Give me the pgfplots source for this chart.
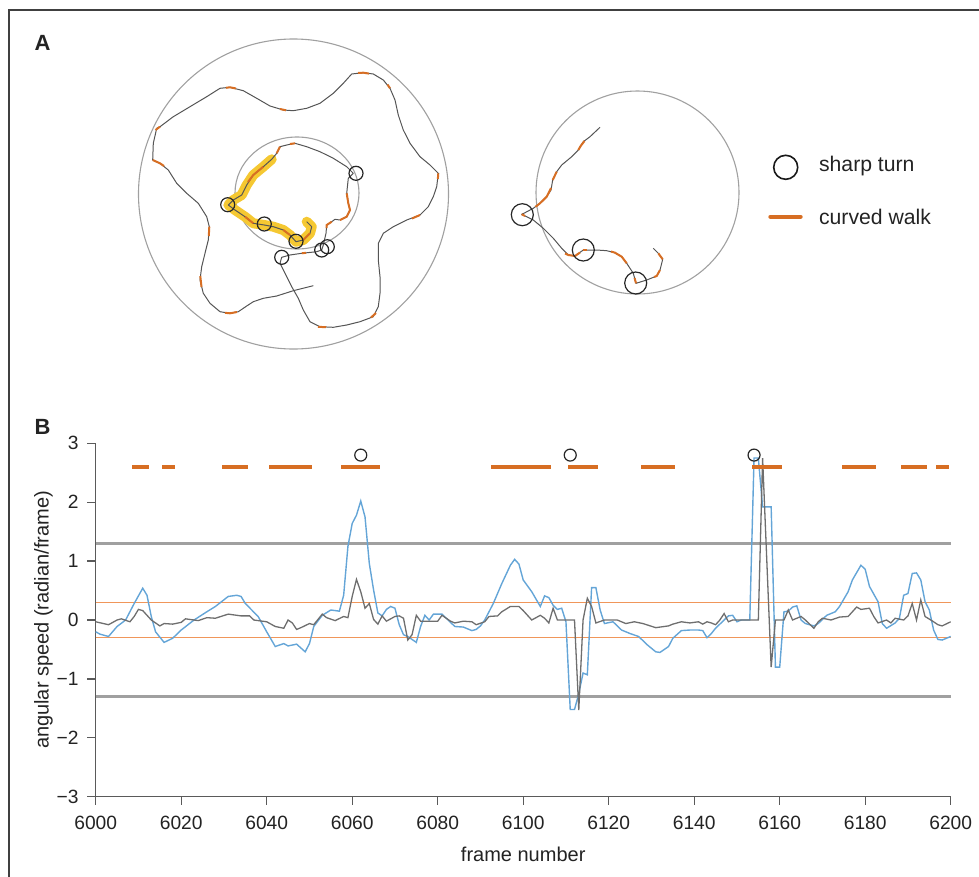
\documentclass[border=0pt]{standalone}
\usepackage{pgfplots}
\pgfplotsset{compat=1.18}
\usepackage{fontspec}
\setmainfont{Liberation Sans}

\definecolor{txt}{RGB}{35,35,35}
\definecolor{traj}{RGB}{85,85,85}
\definecolor{arena}{RGB}{160,160,160}
\definecolor{walk}{RGB}{215,110,35}
\definecolor{hilite}{RGB}{245,200,50}
\definecolor{speedblue}{RGB}{100,165,215}
\definecolor{speedgray}{RGB}{110,110,110}
\definecolor{thrgray}{RGB}{160,160,160}
\definecolor{throrange}{RGB}{240,150,90}
\definecolor{axgray}{RGB}{90,90,90}

\begin{document}
\begin{tikzpicture}
% 1 px of the reference = 0.5pt, y pointing down
\path[use as bounding box] (0pt,0pt) rectangle (489.5pt,-438.5pt);
\draw[black!75, line width=0.6pt] (4.5pt,-438.5pt) -- (4.5pt,-5pt) -- (489.5pt,-5pt);
\node[txt, font=\bfseries\fontsize{11}{13}\selectfont] at (21.25pt,-21.5pt) {A};
\node[txt, font=\bfseries\fontsize{11}{13}\selectfont] at (21.25pt,-213.35pt) {B};

% panel A: trajectories, in pixel units of the figure
\begin{axis}[
    at={(50pt,-185pt)}, anchor=south west,
    scale only axis, width=430pt, height=175pt,
    xmin=100, xmax=960, ymin=20, ymax=370,
    y dir=reverse, hide axis, clip=false,
]
\draw[arena, line width=0.55pt] (axis cs:293.5,194) circle[radius=155];
\draw[arena, line width=0.55pt] (axis cs:297,193) ellipse[x radius=62, y radius=56];
\draw[arena, line width=0.55pt] (axis cs:637.5,192.5) circle[radius=101.5];

% highlighted stretch
\addplot[hilite, line width=5pt, line cap=round, line join=round] coordinates {
 (271.7,159.3) (263.3,166.7) (253.3,175) (246.7,185) (241.7,195) (233.3,200)
 (228.3,205) (235,210) (245,216.7) (253.3,223.3) (264.3,225) (273.3,226.7)
 (283.3,230) (290,235) (296,241.7) (303.3,240) (310,233.3) (311.7,226.7) (306.7,221.7)
};

% left trajectory
\addplot[traj, line width=0.5pt, line join=round] coordinates {
 (313.3,285.7) (293.3,290.7) (276.7,296) (263.3,298.3) (253.3,301.7) (246.7,306)
 (238.3,311.7) (230,313.3) (220,311.7) (210,303.3) (203.3,293.3) (200,280)
 (201.7,266.7) (205,253.3) (208.3,240) (209.3,226.7) (206.7,216.7) (198.3,203.3)
 (186.7,193.3) (176.7,183.3) (168.3,170) (160,163.3) (152.7,160) (153.3,143.3)
 (156.7,128.3) (160,126.7) (173.3,116.7) (190,106.7) (206.7,96.7) (220,88.3)
 (230,87.3) (243.3,90.7) (256.7,98.3) (270,106) (283.3,110) (293.3,110.7)
 (306.7,108.3) (320,103.3) (333.3,93.3) (343.3,83.3) (351.7,74) (363.3,72.7)
 (373.3,74) (383.3,80) (390,88.3) (395,100) (398.3,115) (403.3,130) (410,143.3)
 (420,156.7) (430,165) (438.3,173.3) (436.7,186.7) (433.3,196.7) (428.3,206.7)
 (420,215) (406.7,220) (393.3,226.7) (383.3,233.3) (378.3,243.3) (378.3,260)
 (380,276.7) (380,293.3) (378.3,306.7) (373.3,316.7) (360,321.7) (346.7,325)
 (333.3,327.3) (320,326.7) (310,321.7) (303.3,310) (298.3,298.3) (291.7,286.7)
 (285,273.3) (280,263.3) (281.7,257.3) (290,255) (301.7,253.3) (316.7,251.7)
 (321.7,250) (323.3,245) (326,233.3) (326.7,225) (331.7,221.7) (335,219.3)
 (340,220) (346.7,216.7) (350,210) (348.3,203.3) (346.7,193.3) (348.3,178.3)
 (353.3,173.3) (346.7,166.7) (333.3,158.3) (320,151.7) (306.7,146.7) (295,143.3)
 (286.7,145) (280,146.7) (276.7,153.3) (271.7,159.3) (263.3,166.7) (253.3,175)
 (246.7,185) (241.7,195) (233.3,200) (228.3,205) (235,210) (245,216.7)
 (253.3,223.3) (264.3,225) (273.3,226.7) (283.3,230) (290,235) (296,241.7)
 (303.3,240) (310,233.3) (311.7,226.7) (306.7,221.7)
};

% curved walk stretches, left
\addplot[walk, line width=1pt] coordinates {(155.5,130) (160,126.7)};
\addplot[walk, line width=1pt] coordinates {(152.7,160) (160,163.3) (164,166)};
\addplot[walk, line width=1pt] coordinates {(209.3,226.7) (208.8,236)};
\addplot[walk, line width=1pt] coordinates {(200.3,276) (201.5,287)};
\addplot[walk, line width=1pt] coordinates {(225,312.8) (230,313.3) (237,312)};
\addplot[walk, line width=1pt] coordinates {(226,87.8) (230,87.3) (236,88.5)};
\addplot[walk, line width=1pt] coordinates {(280,109) (286,110.3)};
\addplot[walk, line width=1pt] coordinates {(358,73) (363.3,72.7) (369,73.6)};
\addplot[walk, line width=1pt] coordinates {(387.5,84.5) (390,88.3)};
\addplot[walk, line width=1pt] coordinates {(438.3,173.3) (437.8,179)};
\addplot[walk, line width=1pt] coordinates {(420,215) (412,218.5)};
\addplot[walk, line width=1pt] coordinates {(376,313) (371,317.5)};
\addplot[walk, line width=1pt] coordinates {(318,326.8) (326,327.2)};
\addplot[walk, line width=1pt] coordinates {(301.7,253.3) (306,252.8)};
\addplot[walk, line width=1pt] coordinates {(346.7,193.3) (348.3,203.3) (350,210) (346.7,216.7) (340,220)};
\addplot[walk, line width=1pt] coordinates {(326.5,228) (326.7,225) (331.7,221.7)};
\addplot[walk, line width=1pt] coordinates {(290,144) (295,143.3)};
\addplot[walk, line width=1pt] coordinates {(280,146.7) (276.7,153.3)};
\addplot[walk, line width=1pt] coordinates {(263.3,166.7) (253.3,175) (248,182)};
\addplot[walk, line width=1pt] coordinates {(245,216.7) (253.3,223.3)};
\addplot[walk, line width=1pt] coordinates {(283.3,230) (290,235)};
\addplot[walk, line width=1pt] coordinates {(303.3,240) (310,233.3)};

% right trajectory
\addplot[traj, line width=0.5pt, line join=round] coordinates {
 (600,127.3) (590,136.7) (583.3,141.7) (578.3,150) (571.7,156.7) (561.7,165)
 (556.7,171.7) (552.7,180) (551,190) (546.7,196.7) (540,203.3) (533.3,208.3)
 (525,212.7) (521.7,214.3) (533.3,220) (543.3,228.3) (553.3,238.3) (561.7,248.3)
 (568.3,255) (575,256) (583.3,250) (596.7,250) (606.7,250.7) (615,252.7)
 (621.7,256.7) (626.7,263.3) (630,268.3) (633.3,273.3) (636,283.3) (646.7,280)
 (656.7,276) (660,270) (662.7,259.3) (658.3,253.3) (653.3,248.3)
};
\addplot[walk, line width=1pt] coordinates {(578.3,150) (581,145.5) (584.5,141)};
\addplot[walk, line width=1pt] coordinates {(552.7,180) (556.7,171.7)};
\addplot[walk, line width=1pt] coordinates {(551,188) (546.7,196.7) (540,203.3) (535.5,206.8)};
\addplot[walk, line width=1pt] coordinates {(521.7,214.3) (525,216)};
\addplot[walk, line width=1pt] coordinates {(565,253.5) (568.3,255) (575,256) (580,252.5)};
\addplot[walk, line width=1pt] coordinates {(583.3,250) (587,250)};
\addplot[walk, line width=1pt] coordinates {(611,251.5) (615,252.7) (621.7,256.7) (626.7,263.3)};
\addplot[walk, line width=1pt] coordinates {(634.6,278) (636,283.3)};
\addplot[walk, line width=1pt] coordinates {(654,277) (656.7,276) (660,270)};
\addplot[walk, line width=1pt] coordinates {(662.7,259.3) (658.3,253.3)};

% sharp turns
\addplot[only marks, mark=o, mark size=3.5pt, black!85, line width=0.6pt] coordinates {
 (227.7,204.7) (264.3,224) (296,241.3) (281.7,257.3) (321.7,250) (327.3,246.7) (356,173.3)
};
\addplot[only marks, mark=o, mark size=5.5pt, black!85, line width=0.6pt] coordinates {
 (522.3,214.7) (583.3,250) (635.7,283)
};

% key
\addplot[only marks, mark=o, mark size=6pt, black!90, line width=0.8pt] coordinates {(785.7,167.3)};
\addplot[walk, line width=2.2pt, line cap=round] coordinates {(770.5,216.7) (800.5,216.7)};
\node[txt, anchor=west, font=\fontsize{10.6}{12}\selectfont] at (axis cs:812,166.5) {sharp turn};
\node[txt, anchor=west, font=\fontsize{10.6}{12}\selectfont] at (axis cs:812,216.5) {curved walk};
\end{axis}

% panel B: angular speed
\begin{axis}[
    at={(47.85pt,-398.35pt)}, anchor=south west,
    scale only axis, width=427.5pt, height=176.7pt,
    xmin=6000, xmax=6200, ymin=-3, ymax=3,
    axis x line*=bottom, axis y line*=left,
    axis line style={axgray, line width=0.65pt},
    xtick pos=bottom, ytick pos=left,
    xtick align=outside, ytick align=outside,
    major tick length=4pt,
    every tick/.style={axgray, line width=0.65pt},
    xtick={6000,6020,...,6200},
    xticklabels={6000,6020,6040,6060,6080,6100,6120,6140,6160,6180,6200},
    ytick={-3,-2,...,3},
    yticklabels={−3,−2,−1,0,1,2,3},
    tick label style={txt, font=\fontsize{9.6}{11}\selectfont},
    xticklabel style={yshift=-2pt},
    yticklabel style={xshift=-1pt},
    xlabel={frame number},
    ylabel={angular speed (radian/frame)},
    label style={txt, font=\fontsize{10}{12}\selectfont},
    xlabel style={at={(axis description cs:0.5,0)}, anchor=center, yshift=-29pt},
    ylabel style={at={(axis description cs:-0.061,0.5)}, anchor=center},
    clip=false,
]
% tick marks
\pgfplotsinvokeforeach{6000,6020,6040,6060,6080,6100,6120,6140,6160,6180,6200}{
  \draw[axgray, line width=0.65pt] (axis cs:#1,-3) -- ++(0pt,-4pt);
}
\pgfplotsinvokeforeach{-3,-2,-1,0,1,2,3}{
  \draw[axgray, line width=0.65pt] (axis cs:6000,#1) -- ++(-4.5pt,0pt);
}

\addplot[thrgray, line width=1.1pt] coordinates {(6000,1.3) (6200,1.3)};
\addplot[thrgray, line width=1.1pt] coordinates {(6000,-1.3) (6200,-1.3)};
\addplot[throrange, line width=0.8pt] coordinates {(6000,0.3) (6200,0.3)};
\addplot[throrange, line width=0.8pt] coordinates {(6000,-0.3) (6200,-0.3)};

\addplot[speedblue, line width=0.7pt] coordinates {
 (6000,-0.2) (6001,-0.24) (6003,-0.28) (6005,-0.11) (6007,0.0) (6009,0.28)
 (6011,0.54) (6012,0.42) (6013,0.06) (6014,-0.2) (6016,-0.38) (6018,-0.31)
 (6020,-0.17) (6023,0.0) (6026,0.14) (6028,0.23) (6031,0.4) (6033,0.42)
 (6034,0.4) (6035,0.28) (6038,0.06) (6040,-0.2) (6042,-0.45) (6044,-0.4)
 (6045,-0.44) (6047,-0.41) (6049,-0.54) (6050,-0.4) (6051,-0.11) (6053,0.08)
 (6055,0.17) (6057,0.15) (6058,0.42) (6059,1.25) (6060,1.64) (6061,1.78)
 (6062,2.02) (6063,1.75) (6064,0.96) (6065,0.51) (6066,0.12) (6067,0.07)
 (6068,0.18) (6069,0.23) (6070,0.2) (6071,-0.08) (6072,-0.25) (6073,-0.28)
 (6075,-0.38) (6076,-0.11) (6077,0.08) (6078,0.0) (6079,0.1) (6081,0.1)
 (6082,0.03) (6084,-0.11) (6086,-0.12) (6088,-0.18) (6089,-0.16) (6090,-0.1)
 (6091,0.0) (6093,0.28) (6095,0.62) (6097,0.93) (6098,1.03) (6099,0.95)
 (6100,0.68) (6102,0.48) (6104,0.23) (6105,0.41) (6106,0.38) (6107,0.25)
 (6108,0.18) (6109,0.2) (6110,-0.03) (6111,-1.52) (6112,-1.52) (6113,-1.25)
 (6114,-0.9) (6115,-0.93) (6116,0.55) (6117,0.55) (6118,0.17) (6119,-0.06)
 (6121,-0.03) (6123,-0.17) (6125,-0.23) (6127,-0.28) (6129,-0.42) (6131,-0.54)
 (6132,-0.55) (6134,-0.45) (6135,-0.31) (6137,-0.18) (6139,-0.17) (6141,-0.17)
 (6142,-0.18) (6143,-0.3) (6144,-0.23) (6145,-0.14) (6147,0.0) (6148,0.07)
 (6149,0.08) (6150,-0.03) (6151,0.0) (6153,0.0) (6154,2.75) (6155,2.75)
 (6156,1.92) (6158,1.92) (6159,-0.8) (6160,-0.8) (6161,0.14) (6162,0.15)
 (6163,0.22) (6164,0.24) (6165,0.0) (6166,-0.06) (6167,-0.08) (6168,-0.1)
 (6169,-0.06) (6171,0.08) (6173,0.14) (6174,0.23) (6176,0.48) (6177,0.68)
 (6179,0.93) (6180,0.86) (6181,0.57) (6183,0.31) (6184,-0.06) (6185,-0.14)
 (6187,-0.05) (6188,0.03) (6189,0.42) (6190,0.45) (6191,0.79) (6192,0.8)
 (6193,0.68) (6194,0.31) (6195,0.17) (6196,-0.17) (6197,-0.33) (6198,-0.34)
 (6200,-0.28)
};

\addplot[speedgray, line width=0.65pt] coordinates {
 (6000,-0.03) (6003,-0.08) (6005,0.0) (6006,0.02) (6008,-0.03) (6009,0.06)
 (6010,0.18) (6011,0.16) (6013,0.0) (6015,-0.1) (6016,-0.06) (6018,-0.07)
 (6020,-0.04) (6021,0.02) (6024,-0.01) (6026,0.04) (6028,0.03) (6031,0.1)
 (6033,0.08) (6034,0.07) (6036,0.07) (6037,0.0) (6040,-0.03) (6042,-0.11)
 (6044,-0.14) (6045,0.0) (6046,-0.05) (6047,-0.16) (6048,-0.13) (6050,-0.06)
 (6051,-0.08) (6053,0.1) (6054,0.04) (6056,-0.01) (6058,0.06) (6059,0.04)
 (6060,0.4) (6061,0.69) (6062,0.48) (6063,0.2) (6064,0.28) (6065,0.01)
 (6066,-0.07) (6067,0.07) (6068,-0.02) (6070,0.06) (6071,0.07) (6072,0.03)
 (6073,-0.34) (6074,-0.25) (6075,0.08) (6076,-0.02) (6080,-0.02) (6081,0.08)
 (6083,-0.02) (6084,-0.05) (6086,-0.02) (6088,-0.03) (6089,-0.08) (6091,-0.03)
 (6092,0.06) (6094,0.07) (6095,0.14) (6097,0.23) (6099,0.23) (6100,0.16)
 (6102,0.0) (6104,0.08) (6105,0.03) (6106,-0.05) (6107,0.2) (6108,0.0)
 (6112,0.0) (6113,-1.53) (6114,0.0) (6115,0.37) (6116,0.23) (6117,-0.05)
 (6119,0.0) (6122,0.0) (6124,-0.06) (6126,-0.03) (6128,-0.06) (6131,-0.13)
 (6134,-0.1) (6135,-0.07) (6137,-0.03) (6139,-0.05) (6141,-0.03) (6142,-0.07)
 (6143,-0.03) (6144,-0.05) (6145,-0.08) (6146,0.0) (6147,0.11) (6148,-0.03)
 (6149,0.0) (6155,0.0) (6156,2.75) (6158,-0.8) (6159,0.0) (6161,0.0)
 (6162,0.17) (6163,0.0) (6165,0.06) (6166,0.0) (6168,-0.14) (6169,-0.03)
 (6170,0.03) (6172,0.0) (6174,0.05) (6176,0.06) (6178,0.22) (6179,0.18)
 (6181,0.2) (6182,0.06) (6183,-0.05) (6185,0.0) (6186,-0.05) (6187,0.03)
 (6189,0.0) (6190,0.07) (6191,0.28) (6192,0.0) (6193,0.34) (6194,0.06)
 (6196,-0.03) (6197,-0.08) (6198,-0.1) (6200,-0.03)
};

% curved walk frames
\addplot[only marks, mark=square*, mark size=0.9pt, walk] coordinates {
 (6009,2.6) (6010,2.6) (6011,2.6) (6012,2.6)
 (6016,2.6) (6017,2.6) (6018,2.6)
 (6030,2.6) (6031,2.6) (6032,2.6) (6033,2.6) (6034,2.6) (6035,2.6)
 (6041,2.6) (6042,2.6) (6043,2.6) (6044,2.6) (6045,2.6) (6046,2.6) (6047,2.6) (6048,2.6) (6049,2.6) (6050,2.6)
 (6058,2.6) (6059,2.6) (6060,2.6) (6061,2.6) (6062,2.6) (6063,2.6) (6064,2.6) (6065,2.6) (6066,2.6)
 (6093,2.6) (6094,2.6) (6095,2.6) (6096,2.6) (6097,2.6) (6098,2.6) (6099,2.6) (6100,2.6) (6101,2.6) (6102,2.6) (6103,2.6) (6104,2.6) (6105,2.6) (6106,2.6)
 (6111,2.6) (6112,2.6) (6113,2.6) (6114,2.6) (6115,2.6) (6116,2.6) (6117,2.6)
 (6128,2.6) (6129,2.6) (6130,2.6) (6131,2.6) (6132,2.6) (6133,2.6) (6134,2.6) (6135,2.6)
 (6154,2.6) (6155,2.6) (6156,2.6) (6157,2.6) (6158,2.6) (6159,2.6) (6160,2.6)
 (6175,2.6) (6176,2.6) (6177,2.6) (6178,2.6) (6179,2.6) (6180,2.6) (6181,2.6) (6182,2.6)
 (6189,2.6) (6190,2.6) (6191,2.6) (6192,2.6) (6193,2.6) (6194,2.6)
 (6197,2.6) (6198,2.6) (6199,2.6)
};

% sharp turn frames
\addplot[only marks, mark=o, mark size=3pt, black!85, line width=0.6pt] coordinates {
 (6062,2.8) (6111,2.8) (6154,2.8)
};
\end{axis}
\end{tikzpicture}
\end{document}
